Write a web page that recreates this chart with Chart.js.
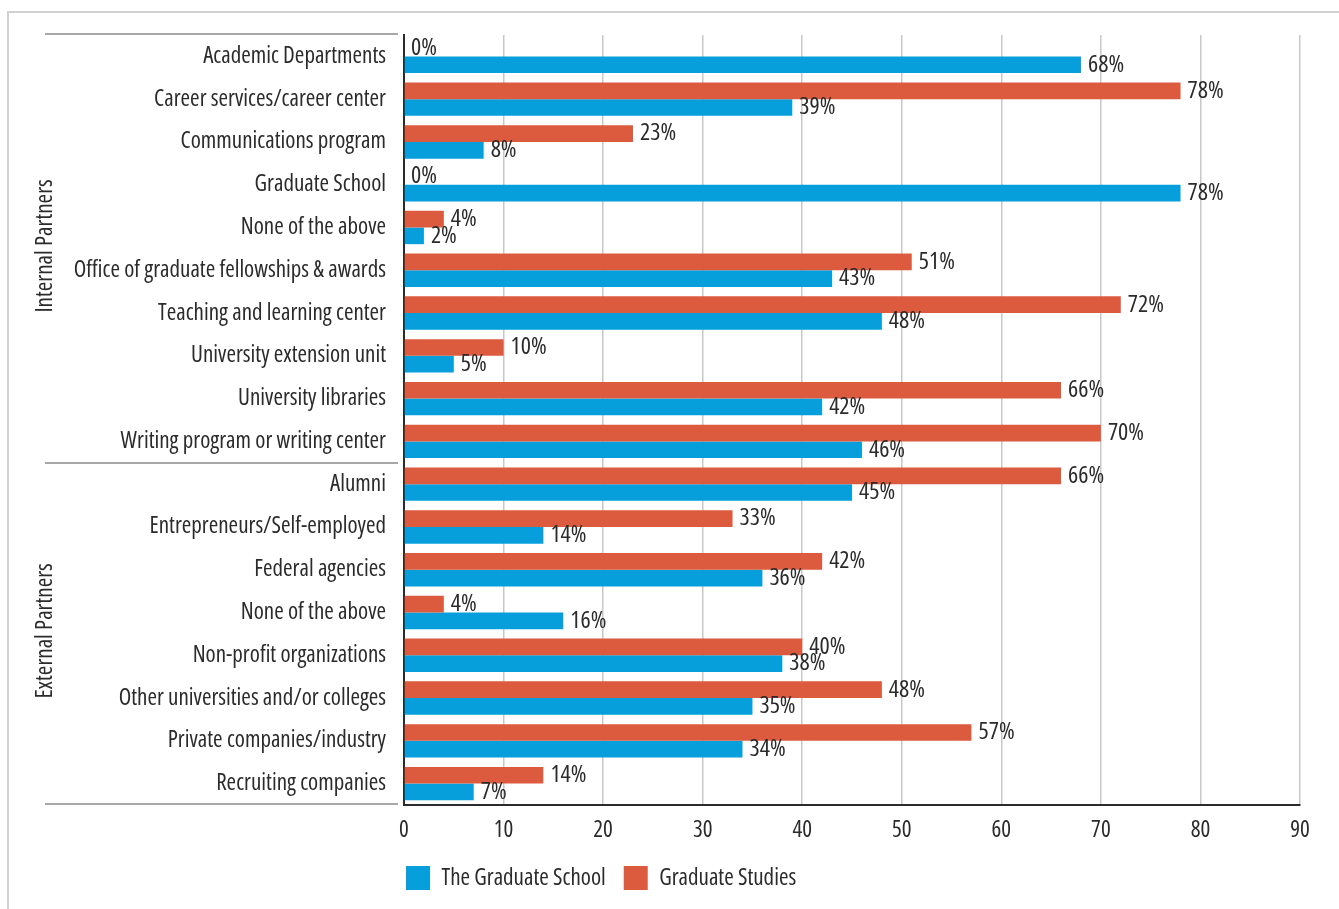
<!DOCTYPE html>
<html>
<head>
<meta charset="utf-8">
<script src="https://cdn.jsdelivr.net/npm/chart.js@4/dist/chart.umd.min.js"></script>
<style>
  html, body { margin: 0; padding: 0; background: #fff; overflow: hidden; }
  #frame { position: absolute; left: 7px; top: 11px; width: 2000px; height: 2000px; border: 2px solid #d2d2d2; box-sizing: border-box; }
  #wrap { position: absolute; left: 0; top: 0; width: 1339px; height: 909px; }
</style>
</head>
<body>
<div id="frame"></div>
<div id="wrap"><canvas id="c" width="1339" height="909"></canvas></div>
<script>
const categories = [
  "Academic Departments",
  "Career services/career center",
  "Communications program",
  "Graduate School",
  "None of the above",
  "Office of graduate fellowships & awards",
  "Teaching and learning center",
  "University extension unit",
  "University libraries",
  "Writing program or writing center",
  "Alumni",
  "Entrepreneurs/Self-employed",
  "Federal agencies",
  "None of the above",
  "Non-profit organizations",
  "Other universities and/or colleges",
  "Private companies/industry",
  "Recruiting companies"
];
const graduateStudies = [0, 78, 23, 0, 4, 51, 72, 10, 66, 70, 66, 33, 42, 4, 40, 48, 57, 14];
const theGraduateSchool = [68, 39, 8, 78, 2, 43, 48, 5, 42, 46, 45, 14, 36, 16, 38, 35, 34, 7];
const xTicks = [0, 10, 20, 30, 40, 50, 60, 70, 80, 90];
const groups = [
  { name: "Internal Partners", from: 0, to: 9 },
  { name: "External Partners", from: 10, to: 17 }
];

const FAMILY = "'Open Sans', 'Roboto Condensed', sans-serif";
const WEIGHT = 'condensed 500';
const SIZE = 23;
const CFONT = WEIGHT + ' ' + SIZE + 'px ' + FAMILY;
const VFONT = WEIGHT + ' 24px ' + FAMILY;
const TXT = '#2b2b2b';
const BLUE = '#069fdb';
const ORANGE = '#dc5a3e';
const chartFont = { family: FAMILY, weight: WEIGHT, size: SIZE };

const valueLabels = {
  id: 'valueLabels',
  afterDatasetsDraw(chart) {
    const ctx = chart.ctx;
    ctx.save();
    ctx.font = VFONT;
    ctx.fillStyle = TXT;
    ctx.textAlign = 'left';
    ctx.textBaseline = 'middle';
    chart.data.datasets.forEach((ds, di) => {
      const meta = chart.getDatasetMeta(di);
      meta.data.forEach((bar, i) => {
        ctx.fillText(ds.data[i] + '%', bar.x + 7, bar.y);
      });
    });
    ctx.restore();
  }
};

const groupDecor = {
  id: 'groupDecor',
  afterDraw(chart) {
    const ctx = chart.ctx;
    const y = chart.scales.y;
    ctx.save();
    ctx.strokeStyle = '#a8a8a8';
    ctx.lineWidth = 2;
    const bounds = [y.getPixelForValue(-0.5) - 1, y.getPixelForValue(9.5), y.getPixelForValue(17.5) - 1];
    bounds.forEach(py => {
      ctx.beginPath();
      ctx.moveTo(45, Math.round(py));
      ctx.lineTo(398, Math.round(py));
      ctx.stroke();
    });
    ctx.font = CFONT;
    ctx.fillStyle = TXT;
    ctx.textAlign = 'center';
    ctx.textBaseline = 'middle';
    groups.forEach(g => {
      const cy = (y.getPixelForValue(g.from - 0.5) + y.getPixelForValue(g.to + 0.5)) / 2 - 3;
      ctx.save();
      ctx.translate(45, cy);
      ctx.rotate(-Math.PI / 2);
      ctx.fillText(g.name, 0, 0);
      ctx.restore();
    });
    ctx.restore();
  }
};

const legendShift = {
  id: 'legendShift',
  afterLayout(chart) {
    const lg = chart.legend;
    if (lg) {
      const pad = lg.options.labels.padding;
      const w = lg.width;
      lg.left = 406 - pad;
      lg.right = lg.left + w;
      lg.top = 866 - pad;
      lg.bottom = lg.top + lg.height;
    }
  }
};

new Chart(document.getElementById('c'), {
  type: 'bar',
  data: {
    labels: categories,
    datasets: [
      { label: 'Graduate Studies', data: graduateStudies, backgroundColor: ORANGE, borderWidth: 0 },
      { label: 'The Graduate School', data: theGraduateSchool, backgroundColor: BLUE, borderWidth: 0 }
    ]
  },
  options: {
    indexAxis: 'y',
    responsive: false,
    animation: false,
    devicePixelRatio: 1,
    categoryPercentage: 0.78,
    barPercentage: 1.0,
    layout: { padding: { left: 0, right: 39, top: 35, bottom: 0 } },
    scales: {
      x: {
        min: 0, max: 90,
        afterBuildTicks(scale) { scale.ticks = xTicks.map(v => ({ value: v })); },
        afterFit(scale) { scale.height = 52; },
        grid: { color: '#c8c8c8', lineWidth: 1.5, drawTicks: false },
        border: { color: '#2b2b2b', width: 2 },
        ticks: { color: TXT, font: chartFont, padding: 12 }
      },
      y: {
        afterFit(scale) { scale.width = 404; },
        grid: { display: false, drawTicks: false },
        border: { color: '#2b2b2b', width: 2 },
        ticks: { color: TXT, font: chartFont, padding: 18, autoSkip: false }
      }
    },
    plugins: {
      legend: {
        position: 'bottom',
        align: 'start',
        fullSize: false,
        reverse: true,
        labels: {
          boxWidth: 24, boxHeight: 24, padding: 18,
          color: TXT,
          font: chartFont
        }
      },
      tooltip: { enabled: false }
    }
  },
  plugins: [valueLabels, groupDecor, legendShift]
});
</script>
</body>
</html>
